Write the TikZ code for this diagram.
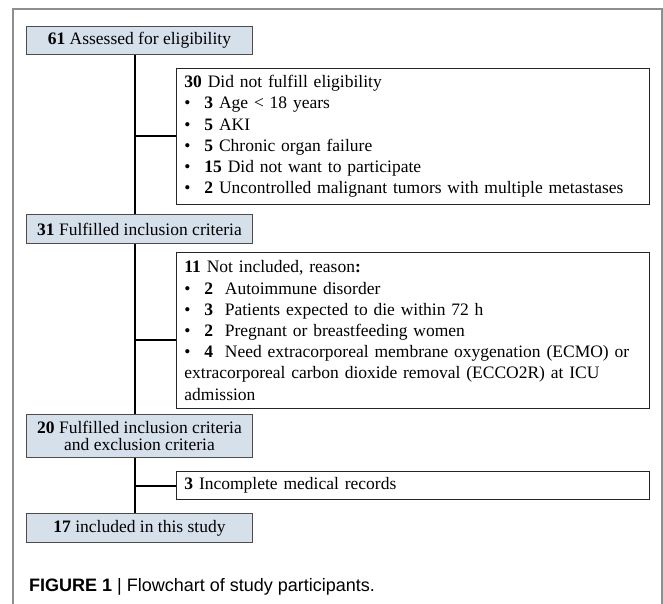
\documentclass[tikz,border=0pt]{standalone}
\usepackage{fontspec}
\setmainfont{Liberation Serif}
\newfontfamily\capfont{Liberation Sans}
\definecolor{boxblue}{HTML}{D5E0EB}
\definecolor{framegray}{HTML}{8E8E8E}
\newcommand{\bul}{\makebox[20pt][l]{\textbullet}}
\begin{document}
\begin{tikzpicture}[x=1pt,y=-1pt,
  bluebox/.style={draw=black!70, fill=boxblue, line width=0.9pt, anchor=north west,
    minimum width=226pt, inner sep=0pt, align=center,
    font=\fontsize{17.5}{16.5}\selectfont},
  whitebox/.style={draw=black!85, line width=0.9pt, anchor=north west,
    text width=457pt, inner xsep=8pt, inner ysep=0pt, align=left,
    font=\fontsize{17.5}{21.2}\selectfont},
  trunk/.style={line width=1.6pt, black}]
\useasboundingbox (0,0) rectangle (663,604);
\draw[framegray, line width=1.5pt] (13,604) -- (13,9) -- (662,9) -- (662,604);

\node[bluebox, minimum height=28pt] (b1) at (26,26) {\textbf{61} Assessed for eligibility};
\node[whitebox, minimum height=136pt] (b2) at (176,68) {\textbf{30} Did not fulfill eligibility\\
\bul\textbf{3} Age < 18 years\\
\bul\textbf{5} AKI\\
\bul\textbf{5} Chronic organ failure\\
\bul\textbf{15} Did not want to participate\\
\bul\textbf{2} Uncontrolled malignant tumors with multiple metastases};
\node[bluebox, minimum height=29pt] (b3) at (26,214) {\textbf{31} Fulfilled inclusion criteria};
\node[whitebox, minimum height=156pt] (b4) at (176,252) {\textbf{11} Not included, reason\textbf{:}\\
\bul\textbf{2}\ \ Autoimmune disorder\\
\bul\textbf{3}\ \ Patients expected to die within 72 h\\
\bul\textbf{2}\ \ Pregnant or breastfeeding women\\
\bul\textbf{4}\ \ Need extracorporeal membrane oxygenation (ECMO) or\\
extracorporeal carbon dioxide removal (ECCO2R) at ICU\\
admission};
\node[bluebox, minimum height=43pt] (b5) at (26,414) {\textbf{20} Fulfilled inclusion criteria\\and exclusion criteria};
\node[whitebox, minimum height=28pt] (b6) at (176,471) {\textbf{3} Incomplete medical records};
\node[bluebox, minimum height=29pt] (b7) at (26,513) {\textbf{17} included in this study};

\coordinate (tx) at (135,0);
\coordinate (j1) at (135,136);
\coordinate (j2) at (135,340);
\coordinate (j3) at (135,486);
\draw[trunk] (tx |- b1.south) -- (tx |- b3.north);
\draw[trunk] (tx |- b3.south) -- (tx |- b5.north);
\draw[trunk] (tx |- b5.south) -- (tx |- b7.north);
\draw[trunk] (j1) -- (j1 -| b2.west);
\draw[trunk] (j2) -- (j2 -| b4.west);
\draw[trunk] (j3) -- (j3 -| b6.west);

\node[anchor=base west, inner sep=0pt, font=\capfont\fontsize{18}{20}\selectfont] (cap) at (29,591)
  {\textbf{FIGURE 1} | Flowchart of study participants.};
\end{tikzpicture}
\end{document}
